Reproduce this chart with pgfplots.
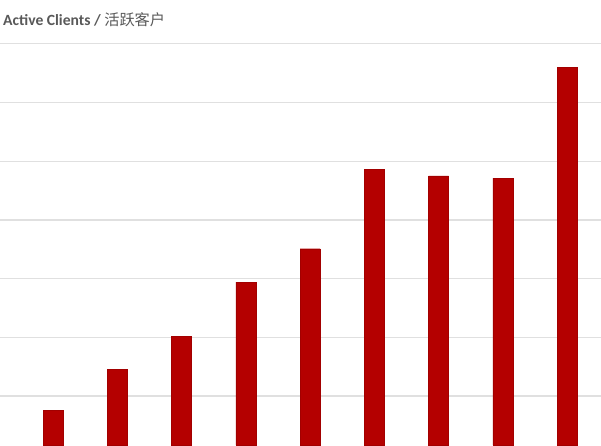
\documentclass[border=0pt]{standalone}
\usepackage{pgfplots}
\pgfplotsset{compat=1.18}
\usepackage{fontspec}
\setmainfont{Carlito}
\newfontfamily\cjk{Noto Sans CJK SC}
\definecolor{barred}{RGB}{180,0,0}
\definecolor{gridgray}{RGB}{224,224,224}
\definecolor{titlegray}{RGB}{89,89,89}
\begin{document}
\begin{tikzpicture}[x=1pt,y=1pt]
\useasboundingbox (0,0) rectangle (601,445);
\clip (0,0) rectangle (601,445);
\fill[white] (0,0) rectangle (601,445);
\begin{axis}[
  at={(0,0)}, anchor=south west,
  scale only axis, width=601pt, height=445pt,
  xmin=0.175, xmax=9.529,
  ymin=0.165, ymax=7.746,
  ybar, bar width=20pt,
  xtick=\empty,
  ytick={1,2,3,4,5,6,7},
  yticklabels={},
  ymajorgrids,
  grid style={gridgray, line width=1.3pt},
  axis line style={draw=none},
  major tick length=0pt,
  clip=true,
]
\addplot[fill=barred, draw=barred!90!black, line width=0.3pt] coordinates {
(1,0.76) (2,1.45) (3,2.02) (4,2.94) (5,3.51) (6,4.86) (7,4.75) (8,4.71) (9,6.60)
};
\end{axis}
\node[anchor=base west, inner sep=0pt, text=titlegray] at (3,419)
  {\fontsize{15.6pt}{18pt}\selectfont\bfseries Active Clients / {\cjk\mdseries\fontsize{15.2pt}{18pt}\selectfont 活跃客户}};
\end{tikzpicture}
\end{document}
